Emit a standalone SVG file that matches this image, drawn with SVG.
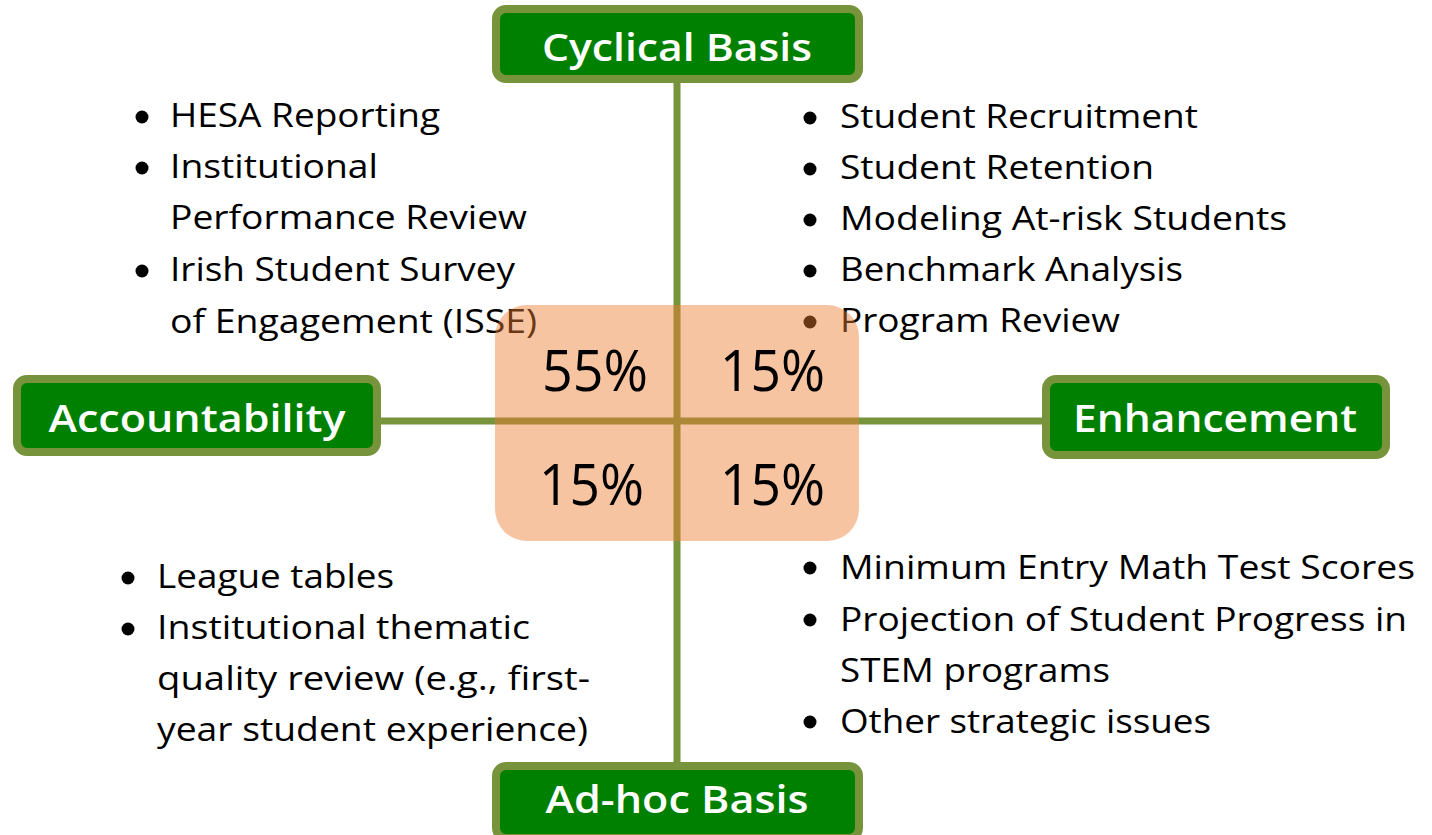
<svg xmlns="http://www.w3.org/2000/svg" width="1432" height="835" viewBox="0 0 1432 835">
<style>
.box{fill:#008000;stroke:#77933C;stroke-width:8}
.lbl{font-family:"Open Sans","Liberation Sans",sans-serif;font-weight:600;font-size:38px;fill:#ffffff;text-anchor:middle}
.li{font-family:"Open Sans","Liberation Sans",sans-serif;font-size:33px;fill:#000000}
.pct{font-family:"Open Sans","Liberation Sans",sans-serif;font-size:56px;fill:#000000}
.conn{stroke:#77933C;stroke-width:7;fill:none}
.dot{fill:#000000}
</style>
<rect width="1432" height="835" fill="#ffffff"/>
<g id="connectors">
<line class="conn" x1="677" y1="80" x2="677" y2="766"/>
<line class="conn" x1="378" y1="421" x2="1046" y2="421"/>
</g>
<g id="cyclical">
<rect class="box" x="496" y="9" width="363" height="70" rx="10"/>
<text class="lbl" x="677" y="61" textLength="270" lengthAdjust="spacingAndGlyphs">Cyclical Basis</text>
</g>
<g id="accountability">
<rect class="box" x="17" y="379" width="360" height="73" rx="10"/>
<text class="lbl" x="197" y="432" textLength="297" lengthAdjust="spacingAndGlyphs">Accountability</text>
</g>
<g id="enhancement">
<rect class="box" x="1046" y="379" width="340" height="76" rx="10"/>
<text class="lbl" x="1215" y="432" textLength="284" lengthAdjust="spacingAndGlyphs">Enhancement</text>
</g>
<g id="adhoc">
<rect class="box" x="496" y="766" width="363" height="72" rx="10"/>
<text class="lbl" x="677" y="813" textLength="263" lengthAdjust="spacingAndGlyphs">Ad-hoc Basis</text>
</g>
<g id="list-top-left">
<circle class="dot" cx="142" cy="117" r="6.5"/>
<text class="li" x="170" y="127" textLength="270" lengthAdjust="spacingAndGlyphs">HESA Reporting</text>
<circle class="dot" cx="142" cy="168" r="6.5"/>
<text class="li" x="170" y="178" textLength="208" lengthAdjust="spacingAndGlyphs">Institutional</text>
<text class="li" x="170" y="229" textLength="357" lengthAdjust="spacingAndGlyphs">Performance Review</text>
<circle class="dot" cx="142" cy="271" r="6.5"/>
<text class="li" x="170" y="281" textLength="345" lengthAdjust="spacingAndGlyphs">Irish Student Survey</text>
<text class="li" x="170" y="333" textLength="367" lengthAdjust="spacingAndGlyphs">of Engagement (ISSE)</text>
</g>
<g id="list-top-right">
<circle class="dot" cx="810" cy="118" r="6.5"/>
<text class="li" x="840" y="128" textLength="358" lengthAdjust="spacingAndGlyphs">Student Recruitment</text>
<circle class="dot" cx="810" cy="169" r="6.5"/>
<text class="li" x="840" y="179" textLength="314" lengthAdjust="spacingAndGlyphs">Student Retention</text>
<circle class="dot" cx="810" cy="220" r="6.5"/>
<text class="li" x="840" y="230" textLength="447" lengthAdjust="spacingAndGlyphs">Modeling At-risk Students</text>
<circle class="dot" cx="810" cy="271" r="6.5"/>
<text class="li" x="840" y="281" textLength="343" lengthAdjust="spacingAndGlyphs">Benchmark Analysis</text>
<circle class="dot" cx="810" cy="322" r="6.5"/>
<text class="li" x="840" y="332" textLength="280" lengthAdjust="spacingAndGlyphs">Program Review</text>
</g>
<g id="list-bottom-left">
<circle class="dot" cx="128" cy="578" r="6.5"/>
<text class="li" x="157" y="588" textLength="237" lengthAdjust="spacingAndGlyphs">League tables</text>
<circle class="dot" cx="128" cy="629" r="6.5"/>
<text class="li" x="157" y="639" textLength="373" lengthAdjust="spacingAndGlyphs">Institutional thematic</text>
<text class="li" x="157" y="690" textLength="433" lengthAdjust="spacingAndGlyphs">quality review (e.g., first-</text>
<text class="li" x="157" y="741" textLength="431" lengthAdjust="spacingAndGlyphs">year student experience)</text>
</g>
<g id="list-bottom-right">
<circle class="dot" cx="810" cy="568" r="6.5"/>
<text class="li" x="840" y="579" textLength="575" lengthAdjust="spacingAndGlyphs">Minimum Entry Math Test Scores</text>
<circle class="dot" cx="810" cy="620" r="6.5"/>
<text class="li" x="840" y="631" textLength="567" lengthAdjust="spacingAndGlyphs">Projection of Student Progress in</text>
<text class="li" x="840" y="682" textLength="270" lengthAdjust="spacingAndGlyphs">STEM programs</text>
<circle class="dot" cx="810" cy="722" r="6.5"/>
<text class="li" x="840" y="733" textLength="371" lengthAdjust="spacingAndGlyphs">Other strategic issues</text>
</g>
<g id="matrix">
<rect x="495" y="305" width="364" height="236" rx="32" fill="#ED7D31" fill-opacity="0.45"/>
<text class="pct" x="542" y="391" textLength="106" lengthAdjust="spacingAndGlyphs">55%</text>
<text class="pct" x="720" y="391" textLength="105" lengthAdjust="spacingAndGlyphs">15%</text>
<text class="pct" x="539" y="505" textLength="105" lengthAdjust="spacingAndGlyphs">15%</text>
<text class="pct" x="720" y="505" textLength="105" lengthAdjust="spacingAndGlyphs">15%</text>
</g>
</svg>
